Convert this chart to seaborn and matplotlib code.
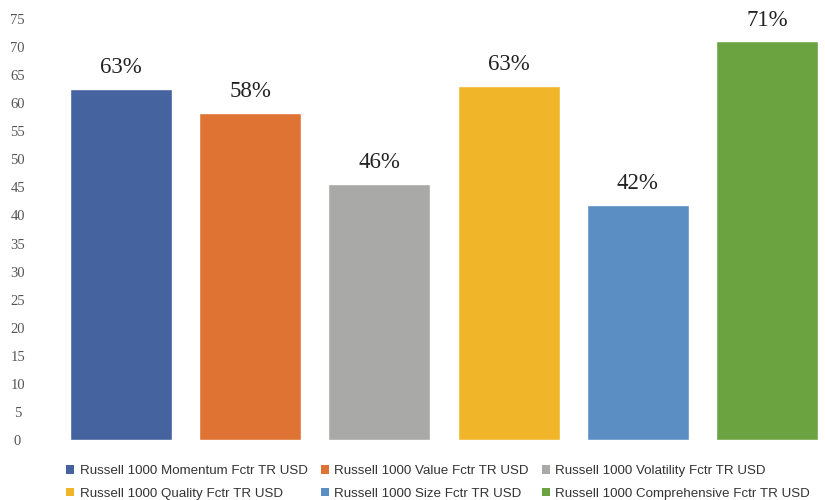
import pandas as pd
import numpy as np
import seaborn as sns
import matplotlib.pyplot as plt
from matplotlib.patches import Patch

indices = ["Russell 1000 Momentum Fctr TR USD", "Russell 1000 Value Fctr TR USD",
           "Russell 1000 Volatility Fctr TR USD", "Russell 1000 Quality Fctr TR USD",
           "Russell 1000 Size Fctr TR USD", "Russell 1000 Comprehensive Fctr TR USD"]
values = [62.6, 58.3, 45.6, 63.1, 41.9, 71.0]
colors = ["#44639f", "#df7334", "#a9a9a7", "#f1b52a", "#5b8ec3", "#6aa340"]
yticks = list(range(0, 80, 5))

df = pd.DataFrame({"Index": indices, "Value": values})

sns.set_style("white")
plt.rcParams['font.family'] = ['Liberation Serif', 'DejaVu Serif']

fig = plt.figure(figsize=(8.25, 5), dpi=100)
ax = fig.add_axes([0.0685, 0.12, 0.9315, 0.842])
sns.barplot(data=df, x="Index", y="Value", hue="Index", palette=colors,
            width=0.79, legend=False, saturation=1, ax=ax)

for i, v in enumerate(values):
    ax.text(i, v + 1.9, f"{v:.0f}%", ha="center", va="bottom", fontsize=16.5, color="#222222")

ax.set_xlim(-0.5, 5.45)
ax.set_ylim(0, 75)
ax.set_yticks(yticks)
ax.tick_params(axis="y", length=0, labelsize=10.5, labelcolor="#555555", pad=28)
for lab in ax.get_yticklabels():
    lab.set_horizontalalignment("center")
ax.set_xticks([])
ax.set_xlabel("")
ax.set_ylabel("")
sns.despine(ax=ax, left=True, bottom=True)

handles = [Patch(facecolor=c, edgecolor="none") for c in colors]
order = [0, 3, 1, 4, 2, 5]
fig.legend([handles[k] for k in order], [indices[k] for k in order], ncol=3,
           loc="lower left", bbox_to_anchor=(0.074, -0.01), frameon=False,
           borderaxespad=0.0, prop={"family": "Liberation Sans", "size": 9.6},
           handlelength=0.6, handleheight=0.6, handletextpad=0.4,
           columnspacing=1.0, labelspacing=0.8, labelcolor="#333333")

fig.savefig("out.png", dpi=100)
